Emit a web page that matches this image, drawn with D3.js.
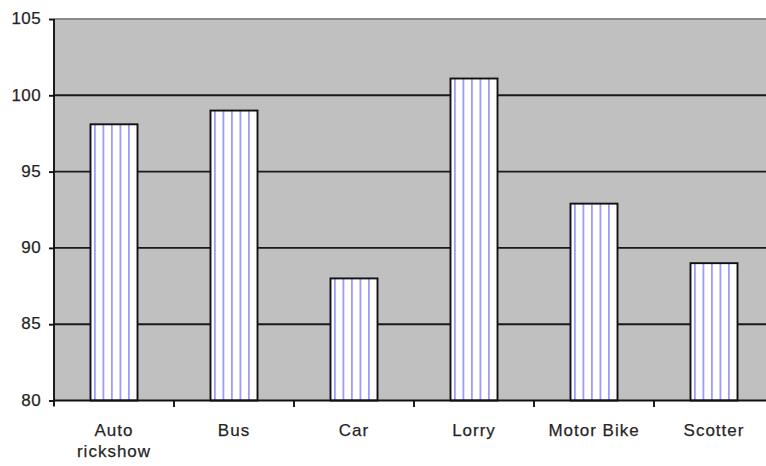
<!DOCTYPE html>
<html>
<head>
<meta charset="utf-8">
<script src="https://cdn.jsdelivr.net/npm/d3@7"></script>
<style>
  body { margin: 0; background: #fff; }
  svg { display: block; }
  text { font-family: "Liberation Sans", Arial, sans-serif; fill: #222; }
</style>
</head>
<body>
<script>
const categories = ['Auto rickshow', 'Bus', 'Car', 'Lorry', 'Motor Bike', 'Scotter'];
const values = [98.1, 99, 88, 101.1, 92.9, 89];
const y_ticks = [80, 85, 90, 95, 100, 105];

const width = 766, height = 466;
const plot_left = 54, plot_top = 19, plot_bottom = 400.5;
const band = 120;

const svg = d3.select('body').append('svg')
    .attr('width', width)
    .attr('height', height);

const x_scale = d3.scaleBand()
    .domain(categories)
    .range([plot_left, plot_left + band * categories.length])
    .padding(0);

const y_scale = d3.scaleLinear()
    .domain([80, 105])
    .range([plot_bottom, plot_top]);

// plot background
svg.append('rect')
    .attr('x', plot_left).attr('y', plot_top)
    .attr('width', band * categories.length).attr('height', plot_bottom - plot_top)
    .attr('fill', '#c0c0c0');

// gridlines
svg.append('g').selectAll('line')
    .data(y_ticks.filter(d => d > 80 && d < 105))
    .enter().append('line')
    .attr('x1', plot_left).attr('x2', plot_left + band * categories.length)
    .attr('y1', d => y_scale(d)).attr('y2', d => y_scale(d))
    .attr('stroke', '#1a1a1a')
    .attr('stroke-width', 1.9);

svg.append('line')
    .attr('x1', plot_left).attr('x2', plot_left + band * categories.length)
    .attr('y1', y_scale(105)).attr('y2', y_scale(105))
    .attr('stroke', '#8a8a8a')
    .attr('stroke-width', 1.9);

// bars
const bar_w = 47;
const bars = svg.append('g').selectAll('g')
    .data(categories.map((c, i) => ({name: c, value: values[i]})))
    .enter().append('g');

bars.append('rect')
    .attr('x', d => x_scale(d.name) + (band - bar_w) / 2)
    .attr('y', d => y_scale(d.value))
    .attr('width', bar_w)
    .attr('height', d => plot_bottom - y_scale(d.value))
    .attr('fill', '#fff');

bars.each(function (d) {
    const x0 = x_scale(d.name) + (band - bar_w) / 2;
    d3.select(this).selectAll('line.stripe')
        .data(d3.range(5))
        .enter().append('line')
        .attr('class', 'stripe')
        .attr('x1', i => x0 + 4.4 + i * 8.5)
        .attr('x2', i => x0 + 4.4 + i * 8.5)
        .attr('y1', y_scale(d.value))
        .attr('y2', plot_bottom)
        .attr('stroke', '#9c9cff')
        .attr('stroke-width', 1.8);
});

bars.append('rect')
    .attr('x', d => x_scale(d.name) + (band - bar_w) / 2)
    .attr('y', d => y_scale(d.value))
    .attr('width', bar_w)
    .attr('height', d => plot_bottom - y_scale(d.value))
    .attr('fill', 'none')
    .attr('stroke', '#111')
    .attr('stroke-width', 1.9);

// y axis
const y_axis = d3.axisLeft(y_scale)
    .tickValues(y_ticks)
    .tickSize(5)
    .tickPadding(8);

const gy = svg.append('g')
    .attr('transform', 'translate(' + plot_left + ',0)')
    .call(y_axis);
gy.select('.domain').remove();
gy.selectAll('.tick line').attr('stroke', '#111').attr('stroke-width', 1.9);
gy.selectAll('.tick text')
    .attr('font-size', 17)
    .attr('letter-spacing', 0.4)
    .attr('fill', '#333')
    .attr('stroke', '#333')
    .attr('stroke-width', 0.25)
    .attr('dy', '0.28em');

svg.append('line')
    .attr('x1', plot_left).attr('x2', plot_left)
    .attr('y1', plot_top).attr('y2', plot_bottom + 6)
    .attr('stroke', '#111').attr('stroke-width', 1.9);

// x axis
svg.append('line')
    .attr('x1', plot_left).attr('x2', plot_left + band * categories.length)
    .attr('y1', plot_bottom).attr('y2', plot_bottom)
    .attr('stroke', '#111').attr('stroke-width', 1.9);

svg.append('g').selectAll('line')
    .data(categories.slice(1))
    .enter().append('line')
    .attr('x1', d => x_scale(d)).attr('x2', d => x_scale(d))
    .attr('y1', plot_bottom).attr('y2', plot_bottom + 6.5)
    .attr('stroke', '#111').attr('stroke-width', 1.9);

const labels = svg.append('g').selectAll('text')
    .data(categories)
    .enter().append('text')
    .attr('x', d => x_scale(d) + band / 2)
    .attr('y', plot_bottom + 35.5)
    .attr('text-anchor', 'middle')
    .attr('font-size', 17)
    .attr('letter-spacing', 1)
    .attr('fill', '#333')
    .attr('stroke', '#333')
    .attr('stroke-width', 0.25);

labels.each(function (d) {
    const words = d === 'Auto rickshow' ? ['Auto', 'rickshow'] : [d];
    d3.select(this).selectAll('tspan')
        .data(words)
        .enter().append('tspan')
        .attr('x', x_scale(d) + band / 2)
        .attr('dy', (w, i) => i === 0 ? 0 : 21)
        .text(w => w);
});
</script>
</body>
</html>
